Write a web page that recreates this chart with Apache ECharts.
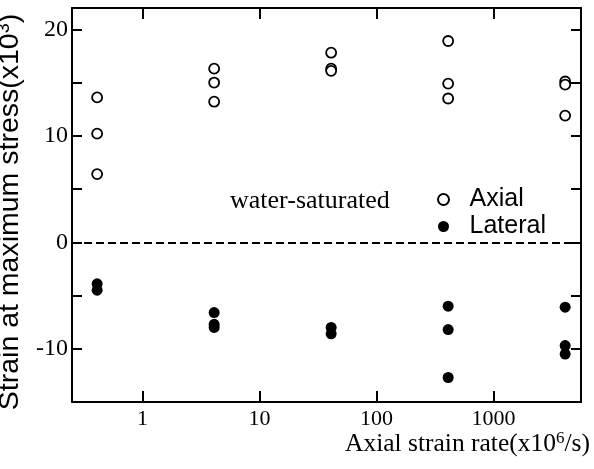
<!DOCTYPE html>
<html>
<head>
<meta charset="utf-8">
<script src="https://cdn.jsdelivr.net/npm/echarts@6/dist/echarts.min.js"></script>
<style>html,body{margin:0;padding:0;background:#fff;}#c{width:594px;height:469px;}</style>
</head>
<body>
<div id="c"></div>
<script>
// Data
var axialRate   = [0.41, 0.41, 0.41, 4.1, 4.1, 4.1, 41, 41, 41, 410, 410, 410, 4100, 4100, 4100];
var axialStrain = [13.6, 10.2, 6.4, 16.3, 15.0, 13.2, 17.8, 16.3, 16.1, 18.9, 14.9, 13.5, 15.1, 14.8, 11.9];
var lateralRate   = [0.41, 0.41, 4.1, 4.1, 4.1, 41, 41, 410, 410, 410, 4100, 4100, 4100];
var lateralStrain = [-3.9, -4.5, -6.6, -7.7, -8.0, -8.0, -8.6, -6.0, -8.2, -12.7, -6.1, -9.7, -10.5];
var xTickLabels = [1, 10, 100, 1000];
var yTickLabels = [-10, 0, 10, 20];

function pairs(xs, ys) { return xs.map(function (x, i) { return [x, ys[i]]; }); }

var serif = 'Liberation Serif';
var sans = 'Liberation Sans';

var chart = echarts.init(document.getElementById('c'), null, { renderer: 'canvas' });
var xCommon = {
  type: 'log', logBase: 10, min: 0.25, max: 5600,
  axisLine: { show: true, onZero: false, lineStyle: { color: '#000', width: 2 } },
  axisTick: { show: true, inside: true, length: 11, lineStyle: { color: '#000', width: 2 } },
  splitLine: { show: false }, minorTick: { show: false }
};
var yCommon = {
  type: 'value', min: -15, max: 22, interval: 5,
  axisLine: { show: true, onZero: false, lineStyle: { color: '#000', width: 2 } },
  axisTick: { show: true, inside: true, length: 10, lineStyle: { color: '#000', width: 2 } },
  splitLine: { show: false }
};
chart.setOption({
  animation: false,
  backgroundColor: '#fff',
  grid: { left: 72, right: 13, top: 8, bottom: 67, containLabel: false, outerBoundsMode: 'none' },
  xAxis: [
    Object.assign({}, xCommon, {
      position: 'bottom',
      axisLabel: {
        show: true, margin: 6, color: '#000', fontFamily: serif, fontSize: 22,
        showMinLabel: false, showMaxLabel: false,
        formatter: function (v) { return xTickLabels.indexOf(Math.round(v)) >= 0 && Math.abs(v - Math.round(v)) < 1e-6 ? String(Math.round(v)) : ''; }
      }
    }),
    Object.assign({}, xCommon, { position: 'top', axisLabel: { show: false } })
  ],
  yAxis: [
    Object.assign({}, yCommon, {
      position: 'left',
      name: 'Strain at maximum stress(x10{sup|3})',
      nameLocation: 'middle', nameGap: 33, nameRotate: 90,
      nameTextStyle: { color: '#000', fontFamily: sans, fontSize: 28.5, padding: [0, 14, 0, 0],
        rich: { sup: { fontFamily: sans, fontSize: 18, color: '#000', padding: [0, 0, 14, 0] } } },
      axisLabel: {
        show: true, margin: 4, color: '#000', fontFamily: serif, fontSize: 24,
        formatter: function (v) { return yTickLabels.indexOf(v) >= 0 ? String(v) : ''; }
      }
    }),
    Object.assign({}, yCommon, { position: 'right', axisLabel: { show: false } })
  ],
  legend: {
    data: ['Axial', 'Lateral'], orient: 'vertical', left: 432, top: 182,
    itemGap: 2, itemWidth: 42, itemHeight: 11,
    textStyle: { color: '#000', fontFamily: sans, fontSize: 25 }
  },
  graphic: [
    { type: 'text', left: 230, top: 188, style: { text: 'water-saturated', fill: '#000', font: '26px "Liberation Serif"' } },
    { type: 'text', left: 345, top: 430, style: {
        text: 'Axial strain rate(x10{sup|6}/s)', fill: '#000', font: '25.5px "Liberation Serif"',
        rich: { sup: { fontFamily: serif, fontSize: 17, fill: '#000', padding: [0, 0, 12, 0] } } } }
  ],
  series: [
    {
      name: 'Axial', type: 'scatter', symbol: 'circle', symbolSize: 10,
      itemStyle: { color: '#fff', borderColor: '#000', borderWidth: 1.8, opacity: 1 },
      data: pairs(axialRate, axialStrain),
      markLine: {
        silent: true, symbol: ['none', 'none'], label: { show: false },
        lineStyle: { color: '#000', width: 2, type: [8, 4] },
        data: [{ yAxis: 0 }]
      }
    },
    {
      name: 'Lateral', type: 'scatter', symbol: 'circle', symbolSize: 11,
      itemStyle: { color: '#000', borderColor: '#000', borderWidth: 0, opacity: 1 },
      data: pairs(lateralRate, lateralStrain)
    }
  ]
});
</script>
</body>
</html>
